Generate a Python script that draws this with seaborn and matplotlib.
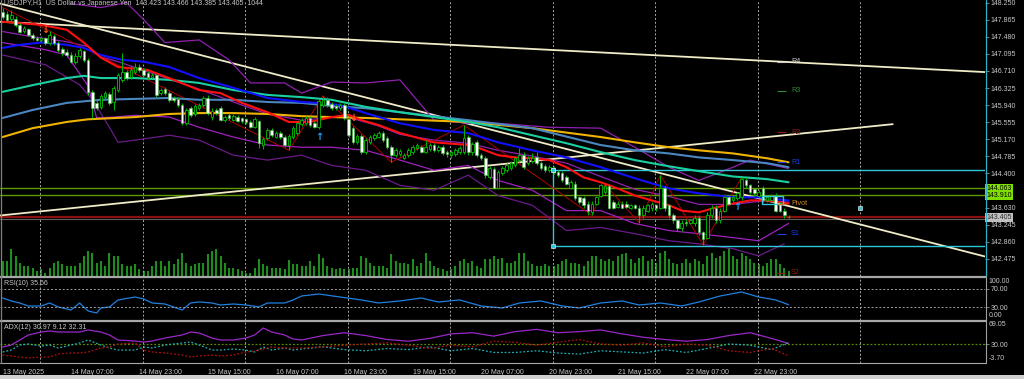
import numpy as np
import pandas as pd
import matplotlib
matplotlib.use("Agg")
import matplotlib.pyplot as plt
import matplotlib.transforms as mtrans
from matplotlib.lines import Line2D
import seaborn as sns

sns.set_theme(style="dark")
plt.rcParams['font.family'] = ['Liberation Sans', 'DejaVu Sans']

# ---------------- price data (H1 bars, index 0 = 13 May 2025) ----------------
opens = [148.05,148.00,147.89,147.89,147.75,147.62,147.66,147.53,147.46,147.41,
         147.46,147.35,147.50,147.35,147.21,147.14,147.07,146.92,147.05,147.17,
         146.96,146.24,145.99,145.90,146.12,146.19,146.01,146.28,146.51,146.69,
         146.58,146.69,146.80,146.73,146.67,146.58,146.62,146.21,146.30,146.21,
         146.10,146.08,145.94,145.53,145.87,145.74,145.87,145.94,146.10,145.67,
         145.83,145.87,145.60,145.72,145.60,145.67,145.65,145.62,145.56,145.44,
         145.58,145.04,145.19,145.38,145.22,145.31,145.22,145.04,145.22,145.31,
         145.51,145.53,145.65,145.53,145.44,145.94,146.06,145.96,145.92,145.87,
         145.94,145.62,145.42,145.10,145.24,144.88,145.10,145.19,145.22,145.31,
         145.19,144.99,144.81,144.83,144.74,144.81,144.88,144.97,144.99,144.88,
         144.95,145.04,144.92,144.99,144.88,144.81,144.83,144.88,144.88,145.22,
         144.88,145.10,144.81,144.74,144.31,144.49,144.08,144.40,144.47,144.51,
         144.58,144.70,144.81,144.63,144.67,144.76,144.63,144.56,144.47,144.51,
         144.42,144.40,144.31,144.08,144.17,143.86,143.84,143.72,143.52,143.72,
         143.90,143.97,144.11,143.75,143.65,143.72,143.72,143.63,143.68,143.63,
         143.45,143.56,143.61,143.68,143.63,144.06,143.68,143.45,143.34,143.16,
         143.31,143.29,143.27,143.40,143.07,142.95,143.45,143.63,143.34,143.56,
         143.86,143.79,143.84,143.86,144.24,144.13,144.04,143.90,144.06,143.79,
         143.79,143.90,143.70,143.56,143.423]
highs = [148.14,148.07,148.09,147.96,147.80,147.73,147.69,147.57,147.50,147.50,
         147.48,147.62,147.55,147.39,147.26,147.21,147.14,147.12,147.23,147.19,
         147.01,146.28,146.06,146.19,146.26,146.24,146.37,146.67,147.12,146.73,
         146.83,146.89,146.87,146.78,146.71,146.67,146.64,146.33,146.35,146.26,
         146.15,146.12,145.99,145.87,145.92,145.96,145.99,146.15,146.17,145.87,
         145.87,145.92,145.72,145.76,145.74,145.72,145.67,145.65,145.60,145.67,
         145.60,145.22,145.42,145.42,145.35,145.35,145.26,145.28,145.47,145.58,
         145.65,145.69,145.69,145.58,146.08,146.15,146.12,146.01,145.96,145.99,
         145.99,145.67,145.47,145.28,145.28,145.19,145.26,145.31,145.35,145.35,
         145.24,145.04,144.97,144.95,144.85,144.97,145.04,145.08,145.04,145.15,
         145.08,145.08,145.04,145.04,144.92,144.92,144.97,145.01,145.49,145.26,
         145.10,145.15,144.85,144.79,144.56,144.54,144.47,144.56,144.63,144.67,
         144.79,144.97,144.88,144.79,144.85,144.88,144.67,144.61,144.58,144.56,
         144.47,144.45,144.36,144.24,144.22,143.90,143.88,143.77,143.77,143.90,
         144.17,144.15,144.15,143.79,143.77,143.77,143.77,143.72,143.72,143.68,
         143.68,143.72,143.75,143.72,144.36,144.11,143.72,143.50,143.38,143.34,
         143.36,143.38,143.45,143.45,143.11,143.52,143.68,143.68,143.61,143.90,
         143.90,143.90,143.99,144.31,144.29,144.17,144.08,144.02,144.11,143.90,
         143.93,143.95,143.75,143.61,143.466]
lows = [147.89,147.82,147.84,147.71,147.57,147.57,147.50,147.41,147.39,147.37,
        147.30,147.30,147.30,147.14,147.05,147.03,146.89,146.87,147.01,146.92,
        146.17,145.65,145.83,145.85,146.08,145.94,145.83,146.24,146.46,146.51,
        146.53,146.64,146.69,146.60,146.53,146.55,146.12,146.17,146.17,146.01,
        146.01,145.90,145.49,145.49,145.67,145.69,145.83,145.90,145.72,145.60,
        145.72,145.58,145.56,145.60,145.58,145.56,145.53,145.51,145.42,145.42,
        144.97,144.95,145.15,145.22,145.19,145.17,144.99,144.92,145.17,145.26,
        145.47,145.49,145.44,145.42,145.40,145.90,145.90,145.83,145.83,145.83,
        145.60,145.22,145.06,145.06,144.83,144.83,145.06,145.15,145.19,145.10,
        144.95,144.65,144.76,144.79,144.72,144.76,144.83,144.92,144.85,144.85,
        144.90,144.88,144.88,144.81,144.76,144.74,144.79,144.83,144.83,144.81,
        144.81,144.76,144.70,144.29,144.27,144.04,144.04,144.36,144.42,144.47,
        144.54,144.65,144.49,144.58,144.63,144.58,144.47,144.42,144.42,144.38,
        144.31,144.20,144.13,144.04,143.79,143.70,143.61,143.47,143.45,143.68,
        143.86,143.93,143.59,143.59,143.61,143.61,143.61,143.59,143.59,143.29,
        143.40,143.52,143.56,143.56,143.59,143.56,143.40,143.29,143.11,143.11,
        143.22,143.25,143.22,143.02,142.79,142.91,143.40,143.29,143.29,143.52,
        143.68,143.75,143.79,143.81,144.08,143.93,143.90,143.86,143.75,143.75,
        143.75,143.52,143.52,143.40,143.385]
closes = [147.93,147.87,147.98,147.75,147.60,147.69,147.53,147.46,147.41,147.46,
          147.35,147.53,147.35,147.19,147.12,147.07,146.92,147.05,147.19,146.96,
          146.24,145.87,145.87,146.15,146.21,145.99,146.33,146.62,146.69,146.55,
          146.73,146.80,146.73,146.62,146.58,146.62,146.17,146.28,146.21,146.06,
          146.06,145.94,145.53,145.83,145.72,145.92,145.94,146.10,145.76,145.81,
          145.76,145.60,145.67,145.65,145.69,145.58,145.58,145.56,145.44,145.62,
          145.08,145.17,145.38,145.26,145.31,145.22,145.04,145.24,145.42,145.53,
          145.60,145.65,145.49,145.44,146.03,146.06,145.94,145.87,145.87,145.94,
          145.65,145.26,145.10,145.24,144.88,145.15,145.22,145.26,145.31,145.15,
          144.99,144.81,144.92,144.90,144.81,144.92,144.99,145.04,144.88,144.99,
          145.04,144.92,144.99,144.85,144.83,144.88,144.92,144.97,145.19,144.88,
          145.06,144.81,144.74,144.36,144.51,144.08,144.42,144.51,144.58,144.63,
          144.74,144.81,144.54,144.74,144.74,144.63,144.51,144.47,144.54,144.42,
          144.36,144.24,144.17,144.20,143.84,143.75,143.68,143.56,143.70,143.86,
          144.13,144.11,143.63,143.63,143.72,143.63,143.65,143.68,143.63,143.45,
          143.63,143.68,143.70,143.61,144.06,143.61,143.45,143.34,143.16,143.29,
          143.27,143.34,143.40,143.07,142.93,143.47,143.63,143.34,143.56,143.86,
          143.72,143.86,143.95,144.27,144.13,143.97,143.95,143.97,143.79,143.86,
          143.88,143.56,143.56,143.45,143.405]
volumes = [3000,3000,5400,4100,2700,2100,2100,1700,1100,1400,
           700,1700,2700,3000,2400,2100,2100,2100,2700,4100,
           5100,4700,2700,3000,2100,4700,4100,4100,2400,2100,
           2100,2400,1400,1100,1100,2100,3000,3000,2100,3000,
           2400,3400,4700,2700,2100,2400,2700,2700,4400,5100,
           5400,4100,2700,1700,1700,1400,1100,700,700,1700,
           3500,2400,2100,1700,1700,1700,1400,3300,2400,2400,
           2100,2100,3100,2100,4400,3700,2100,1700,1400,1700,
           1400,1400,1700,1700,4100,3700,2700,2100,2100,2100,
           1700,4400,3100,2700,2700,2400,3400,2100,2700,4700,
           3100,2100,1700,1400,1100,1400,2100,3100,3400,2700,
           3100,2100,1700,3400,3400,4100,3400,3700,2700,2700,
           3100,4700,4700,3100,2400,2100,2100,2400,2100,2100,
           2400,3100,3400,2700,2700,2400,2100,3100,4100,4100,
           3400,3100,3400,3100,4100,4400,4700,3400,2700,3700,
           4100,3100,3400,2700,4700,5100,3400,2700,2400,2700,
           3400,2700,3400,3100,2400,4100,4700,3700,4100,5100,
           5700,4100,3400,4700,4100,3400,2700,2400,2100,2700,
           3400,3400,2400,1700,1044]

# ---------------- moving averages (bar index / price) ----------------
ma_red_bars = [0,9,15,19,23,27,34,40,46,51,56,62,67,72,77,81,84,88,93,101,109,111,116,120,124,128,132,136,140,144,148,152,156,159,163,167,171,175,179,184]
ma_red = [147.82,147.75,147.64,147.35,147.01,146.80,146.73,146.51,146.28,146.21,145.99,145.78,145.56,145.56,145.67,145.72,145.60,145.49,145.31,145.10,145.04,144.99,144.81,144.76,144.74,144.70,144.54,144.31,144.20,144.06,143.90,143.79,143.68,143.56,143.52,143.63,143.72,143.79,143.79,143.72]
ma_blue_bars = [0,4,9,15,19,23,28,33,39,46,54,62,70,74,79,85,93,101,109,116,124,132,140,148,156,163,171,177,184]
ma_blue = [147.23,147.30,147.35,147.30,147.23,147.07,146.96,146.92,146.80,146.55,146.33,146.10,146.01,145.99,145.94,145.76,145.53,145.38,145.31,145.10,144.92,144.76,144.54,144.29,144.06,143.95,143.86,143.86,143.79]
ma_teal_bars = [0,7,15,19,23,31,39,46,54,62,70,77,85,93,101,109,116,124,132,140,148,156,163,171,179,184]
ma_teal = [146.24,146.39,146.55,146.60,146.55,146.55,146.51,146.44,146.28,146.17,146.12,146.06,145.90,145.78,145.67,145.56,145.44,145.26,145.08,144.88,144.70,144.56,144.45,144.33,144.27,144.20]
ma_steel_bars = [0,7,15,23,31,39,46,54,62,70,77,85,93,109,124,140,148,156,163,171,179,184]
ma_steel = [145.65,145.83,145.99,146.06,146.08,146.10,146.06,146.06,146.01,145.99,145.92,145.87,145.78,145.60,145.42,145.04,144.92,144.85,144.76,144.70,144.63,144.54]
ma_gold_bars = [0,7,15,20,31,39,46,54,62,70,77,85,93,109,124,140,148,156,163,171,179,184]
ma_gold = [145.22,145.42,145.56,145.62,145.67,145.74,145.76,145.76,145.74,145.69,145.67,145.65,145.62,145.56,145.42,145.22,145.10,144.99,144.92,144.85,144.74,144.65]

# ---------------- bands ----------------
bb_up_bars = [16,23,29,33,38,46,53,58,66,70,77,85,93,101,109,116,128,140,148,156,163,171,175,184]
bb_up = [148.23,148.14,148.25,147.87,147.35,147.41,146.96,146.44,146.44,146.21,146.46,146.44,146.51,145.60,145.53,145.53,145.44,145.42,144.99,144.54,144.24,144.54,144.70,144.51]
bb_mid_bars = [0,7,15,20,23,27,34,46,56,62,70,80,88,93,101,109,116,124,132,140,148,156,163,171,179,184]
bb_mid = [147.60,147.48,147.37,147.26,147.03,146.92,146.69,146.30,145.94,145.74,145.60,145.69,145.47,145.28,145.15,145.08,144.92,144.79,144.63,144.33,144.04,143.88,143.70,143.70,143.79,143.75]
bb_low_bars = [0,10,15,20,22,26,31,39,46,54,62,70,77,85,93,101,109,116,124,132,140,148,156,163,171,177,184]
bb_low = [147.35,147.19,147.07,146.37,145.65,145.67,145.71,145.67,145.44,145.22,145.04,144.99,144.99,144.92,144.70,144.47,144.58,144.24,144.02,143.56,143.56,143.27,143.11,143.04,142.95,142.88,143.27]
bb_low2_bars = [0,10,18,21,25,27,31,39,46,54,62,70,77,85,93,101,109,116,124,132,140,148,156,163,171,177,183]
bb_low2 = [147.07,146.85,146.40,146.06,145.44,145.10,145.15,145.26,145.15,144.81,144.70,144.81,144.58,144.47,144.13,144.02,144.36,143.90,143.68,143.11,143.18,143.04,142.88,142.81,142.70,142.54,142.81]

# ZigZag vertices
zz_bars = [0,67,75,91,108,138,141,149,154,164,173]
zz_vals = [148.14,144.92,146.15,144.65,145.49,143.45,144.15,143.29,144.36,142.79,144.31]

# fractal arrows
up_arrow_bars = [74, 172]
up_arrow_vals = [145.22, 143.65]
dn_arrow_bars = [10, 82]
dn_arrow_vals = [147.64, 145.65]

# trend lines (bar, price endpoints)
tl_a = ([-0.6, 239.1], [147.82, 146.64])
tl_b = ([-0.6, 239.1], [148.23, 142.30])
tl_c = ([-0.6, 208.4], [143.45, 145.51])

# pivot levels
piv_names = ["R4", "R3", "R2", "R1", "Pivot", "S1", "S2"]
piv_vals = [146.92, 146.26, 145.33, 144.65, 143.72, 143.04, 142.16]
piv_cols = ["#c8c8c8", "#2e8b2e", "#8b1a1a", "#2040e0", "#c88a20", "#2040e0", "#8b1a1a"]

# horizontal lines / labels
green_levels = [144.063, 143.910]
bid_level = 143.405
box_bar = 128.9
box_top, box_bot = 144.485, 142.76
rect_bars = (177.8, 182.7)
rect_vals = (143.72, 143.90)
dot_bar, dot_val = 200.8, 143.61

price_ticks = [148.250,147.865,147.480,147.095,146.710,146.325,145.940,145.555,
               145.170,144.785,144.400,144.015,143.630,143.245,142.860,142.475]

# ---------------- RSI(10) ----------------
rsi_bars = [0,2,4,6,9,11,13,16,18,20,22,23,25,27,31,33,35,38,42,44,46,49,51,54,57,60,62,66,68,70,
            74,79,84,88,93,98,102,107,112,117,121,126,131,135,140,145,149,154,159,163,168,173,177,181,184]
rsi_vals = [50.3,43.8,39.4,32.8,32.8,39.4,30.7,24.1,39.4,21.9,17.5,28.5,30.7,46.0,52.5,48.1,39.4,37.2,24.1,39.4,41.6,39.4,35.0,37.2,35.0,30.7,39.4,39.4,46.0,54.7,
            59.0,52.5,46.0,39.4,43.8,50.3,41.6,46.0,32.8,28.5,39.4,43.8,32.8,28.5,39.4,43.8,35.0,39.4,32.8,41.6,54.7,63.4,52.5,46.0,35.66]

# ---------------- ADX(12) ----------------
adx_bars = [0,2,4,6,9,11,13,16,18,20,23,25,27,31,33,35,38,42,44,46,49,51,54,57,59,61,63,66,68,70,
            75,80,85,90,95,100,105,110,115,120,125,130,135,140,145,150,155,160,165,170,175,180,184]
adx_vals = [24.7,28.2,37.1,46.0,51.3,53.1,51.3,51.3,51.3,54.9,51.3,46.0,37.1,35.3,33.5,35.3,40.6,46.0,51.3,49.5,40.6,37.1,37.1,40.6,46.0,58.4,51.3,46.0,38.9,37.1,
            45,50,45,38,35,40,48,50,44,52,56,50,52,55,48,42,38,35,38,45,50,40,30.97]
mdi_vals = [15.8,19.3,28.2,30.0,26.4,28.2,22.9,28.2,31.8,37.1,28.2,22.9,19.3,19.3,24.7,22.9,28.2,31.8,33.5,28.2,19.3,19.3,21.1,19.3,15.8,24.7,19.3,22.9,19.3,21.1,
            25,20,18,22,20,25,18,22,15,15,18,14,12,18,16,14,20,15,22,30,28,20,32.31]
pdi_vals = [10.5,8.7,6.9,5.2,6.9,6.9,12.3,14.0,14.0,15.8,22.9,24.7,30.0,31.8,19.3,15.8,14.0,10.5,6.9,8.7,10.5,8.7,10.5,15.8,17.6,21.1,24.7,22.9,22.9,22.9,
            25,28,30,32,28,22,28,25,35,33,28,33,38,30,28,32,25,30,28,18,15,22,9.12]

date_tick_bars = [0,16,32,48,64,80,96,112,128,144,160,176]
date_labels = ["13 May 2025","14 May 07:00","14 May 23:00","15 May 15:00","16 May 07:00",
               "16 May 23:00","19 May 15:00","20 May 07:00","20 May 23:00","21 May 15:00",
               "22 May 07:00","22 May 23:00"]
grid_bars = [8.75, 32.75, 56.75, 80.75, 104.75, 128.75, 152.75, 176.75, 200.75]

# ---------------- figure layout ----------------
W, H = 1024.0, 379.0
fig = plt.figure(figsize=(W / 100, H / 100), dpi=100)
fig.patch.set_facecolor("black")

def rect(x0, y0, x1, y1):
    return [x0 / W, 1 - y1 / H, (x1 - x0) / W, (y1 - y0) / H]

ax = fig.add_axes(rect(0, 0, 985, 276))
ax_rsi = fig.add_axes(rect(0, 277, 985, 320), sharex=ax)
ax_adx = fig.add_axes(rect(0, 322, 985, 363), sharex=ax)
ax_vol = ax.twinx()

XL = (-0.63, 230.0)
TXT = "#c8c8c8"
FS = 5.0

for a in (ax, ax_rsi, ax_adx, ax_vol):
    a.set_facecolor("black")
    a.grid(False)
    for s in a.spines.values():
        s.set_visible(False)

ax.set_zorder(ax_vol.get_zorder() + 1)
ax.patch.set_visible(False)

# volumes
ax_vol.vlines(np.arange(len(volumes)), 0, volumes, color="#1e8c1e", lw=1.5)
ax_vol.set_ylim(0, 56000)
ax_vol.set_yticks([])

# grid
for a in (ax, ax_rsi, ax_adx):
    for gb in grid_bars:
        a.axvline(gb, color="#a8a8a8", lw=0.7, ls=(0, (2, 2)), zorder=0.5)

# horizontal levels
for lv in green_levels:
    ax.axhline(lv, color="#5f9a00", lw=1.0, zorder=1)
ax.axhline(bid_level, color="#8b1010", lw=1.6, zorder=1)
ax.axhline(bid_level - 0.03, color="#606060", lw=0.8, zorder=1)

# trendlines
for tl in (tl_a, tl_b, tl_c):
    sns.lineplot(x=tl[0], y=tl[1], ax=ax, color="#f0ecc8", lw=1.3, zorder=3)

# moving averages
ma_specs = [(ma_gold_bars, ma_gold, "#f0b400"), (ma_steel_bars, ma_steel, "#4a86c0"),
            (ma_teal_bars, ma_teal, "#18d0a0"), (ma_blue_bars, ma_blue, "#1010ff"),
            (ma_red_bars, ma_red, "#ff1010")]
for xb, yv, c in ma_specs:
    sns.lineplot(x=xb, y=yv, ax=ax, color=c, lw=1.5, zorder=4)

# bands
sns.lineplot(x=bb_up_bars, y=bb_up, ax=ax, color="#9020b0", lw=0.9, zorder=3)
sns.lineplot(x=bb_mid_bars, y=bb_mid, ax=ax, color="#9020b0", lw=0.9, zorder=3)
sns.lineplot(x=bb_low_bars, y=bb_low, ax=ax, color="#a020c0", lw=0.9, zorder=3)
sns.lineplot(x=bb_low2_bars, y=bb_low2, ax=ax, color="#6a1a8a", lw=0.9, zorder=3)

# zigzag
sns.lineplot(x=zz_bars, y=zz_vals, ax=ax, color="#b00000", lw=0.7, zorder=3.5)

# candles
idx = np.arange(len(closes))
o = np.array(opens); c = np.array(closes); h = np.array(highs); l = np.array(lows)
ax.vlines(idx, l, h, color="#00b000", lw=0.8, zorder=5)
bull = c >= o
ax.bar(idx[bull], (c - o)[bull], bottom=o[bull], width=0.6, color="black",
       edgecolor="#00c000", linewidth=0.6, zorder=6)
ax.bar(idx[~bull], (o - c)[~bull], bottom=c[~bull], width=0.6, color="white",
       edgecolor="#40c040", linewidth=0.4, zorder=6)

# arrows
for b, v in zip(up_arrow_bars, up_arrow_vals):
    ax.text(b, v, "\u2191", color="#20a0ff", fontsize=7, fontweight="bold",
            ha="center", va="center", family="DejaVu Sans", zorder=7)
for b, v in zip(dn_arrow_bars, dn_arrow_vals):
    ax.text(b, v, "\u2193", color="#ff5a20", fontsize=7, fontweight="bold",
            ha="center", va="center", family="DejaVu Sans", zorder=7)

# cyan drawing objects
ax.hlines([box_top, box_bot], box_bar, XL[1], color="#30c8d8", lw=1.0, zorder=3)
ax.vlines(box_bar, box_bot, box_top, color="#30c8d8", lw=1.0, zorder=3)
ax.scatter([box_bar, box_bar], [box_top, box_bot], s=8, marker="s", color="#30c8d8",
           edgecolor="white", linewidth=0.4, zorder=7)
ax.add_patch(plt.Rectangle((rect_bars[0], rect_vals[0]), rect_bars[1] - rect_bars[0],
                           rect_vals[1] - rect_vals[0], fill=False, ec="#30c8d8", lw=1.0, zorder=7))
ax.scatter([dot_bar], [dot_val], s=8, marker="s", color="#30c8d8", edgecolor="white",
           linewidth=0.4, zorder=7)

# pivot labels
for n, v, col in zip(piv_names, piv_vals, piv_cols):
    ax.hlines(v, 181.3, 183.3, color=col, lw=0.8, zorder=7)
    ax.text(184.6, v, n, color=col, fontsize=5.2, ha="left", va="center", zorder=7)

ax.set_xlim(*XL)
ax.set_ylim(142.085, 148.311)

# price axis
ax.yaxis.tick_right()
ax.set_yticks(price_ticks)
ax.set_yticklabels([("" if abs(t - 144.015) < 1e-6 else f"{t:.3f}") for t in price_ticks])
ax.tick_params(axis="y", colors="#909090", labelcolor=TXT, labelsize=FS, length=3,
               width=0.6, pad=1, direction="out")
ax.tick_params(axis="x", bottom=False, labelbottom=False)
ytr = mtrans.blended_transform_factory(ax.transAxes, ax.transData)
for lv in green_levels:
    ax.text(1.0015, lv, f"{lv:.3f}", transform=ytr, fontsize=FS, color="black",
            ha="left", va="center", clip_on=False, zorder=9,
            bbox=dict(boxstyle="square,pad=0.15", fc="#7fe000", ec="none"))
ax.text(1.0015, bid_level, f"{bid_level:.3f}", transform=ytr, fontsize=FS, color="#303030",
        ha="left", va="center", clip_on=False, zorder=9,
        bbox=dict(boxstyle="square,pad=0.15", fc="#c0c0c0", ec="none"))
ax.set_ylabel("")

# RSI panel
sns.lineplot(x=rsi_bars, y=rsi_vals, ax=ax_rsi, color="#2080e0", lw=0.9)
for lv in (70, 30):
    ax_rsi.axhline(lv, color="#a0a0a0", lw=0.7, ls=(0, (2, 2)))
ax_rsi.set_ylim(2.2, 96.2)
ax_rsi.yaxis.tick_right()
ax_rsi.set_yticks([70, 30])
ax_rsi.set_yticklabels(["70.00", "30.00"])
ax_rsi.tick_params(axis="y", colors="#909090", labelcolor=TXT, labelsize=FS, length=3,
                   width=0.6, pad=1)
ax_rsi.tick_params(axis="x", bottom=False, labelbottom=False)
ax_rsi.text(1.004, 0.9, "100.00", transform=ax_rsi.transAxes, fontsize=FS, color=TXT,
            ha="left", va="center")
ax_rsi.text(1.004, 0.11, "0.00", transform=ax_rsi.transAxes, fontsize=FS, color=TXT,
            ha="left", va="center")
ax_rsi.text(0.004, 0.86, "RSI(10) 35.66", transform=ax_rsi.transAxes, fontsize=FS,
            color=TXT, ha="left", va="center")
ax_rsi.set_ylabel("")

# ADX panel
ax_adx.axhline(30, color="#5a8a00", lw=0.9, ls=(0, (1.5, 1.5)))
sns.lineplot(x=adx_bars, y=adx_vals, ax=ax_adx, color="#9a28c8", lw=0.9)
sns.lineplot(x=adx_bars, y=mdi_vals, ax=ax_adx, color="#20b0b0", lw=0.9, ls=(0, (1.5, 1.5)))
sns.lineplot(x=adx_bars, y=pdi_vals, ax=ax_adx, color="#b01010", lw=0.9, ls=(0, (1.5, 1.5)))
ax_adx.set_ylim(-3.70, 69.05)
ax_adx.yaxis.tick_right()
ax_adx.set_yticks([30])
ax_adx.set_yticklabels(["30.00"])
ax_adx.tick_params(axis="y", colors="#909090", labelcolor=TXT, labelsize=FS, length=3,
                   width=0.6, pad=1)
ax_adx.text(1.004, 0.93, "69.05", transform=ax_adx.transAxes, fontsize=FS, color=TXT,
            ha="left", va="center")
ax_adx.text(1.004, 0.1, "-3.70", transform=ax_adx.transAxes, fontsize=FS, color=TXT,
            ha="left", va="center")
ax_adx.text(0.004, 0.87, "ADX(12) 30.97 9.12 32.31", transform=ax_adx.transAxes,
            fontsize=FS, color=TXT, ha="left", va="center")
ax_adx.set_xticks(date_tick_bars)
ax_adx.set_xticklabels(date_labels)
ax_adx.tick_params(axis="x", colors="#909090", labelcolor=TXT, labelsize=FS, length=3,
                   width=0.6, pad=1.5, direction="out")
for lab in ax_adx.get_xticklabels():
    lab.set_ha("left")
ax_adx.set_xlim(*XL)
ax_adx.set_ylabel("")

# title
ax.text(0.004, 0.988, "USDJPY,H1  US Dollar vs Japanese Yen  143.423 143.466 143.385 143.405  1044",
        transform=ax.transAxes, fontsize=FS, color=TXT, ha="left", va="center", zorder=9)

# frame lines
def hline_px(y, x0, x1, col, lw):
    fig.add_artist(Line2D([x0 / W, x1 / W], [1 - y / H, 1 - y / H], color=col, lw=lw))
def vline_px(x, y0, y1, col, lw):
    fig.add_artist(Line2D([x / W, x / W], [1 - y0 / H, 1 - y1 / H], color=col, lw=lw))
hline_px(276.5, 0, 986, "#a8a8a8", 1.6)
hline_px(321, 0, 986, "#a8a8a8", 1.6)
hline_px(363.3, 0, 986, "#a8a8a8", 0.8)
vline_px(985.5, 0, 276, "#30b0c0", 0.9)
vline_px(985.5, 277, 363, "#a0a0a0", 0.8)
vline_px(0.8, 0, 363, "#808080", 0.9)
fig.add_artist(plt.Rectangle((0, 0), 1, 4 / H, transform=fig.transFigure,
                             fc="#d0d0d0", ec="none"))

fig.savefig("out.png", dpi=100, facecolor="black")
